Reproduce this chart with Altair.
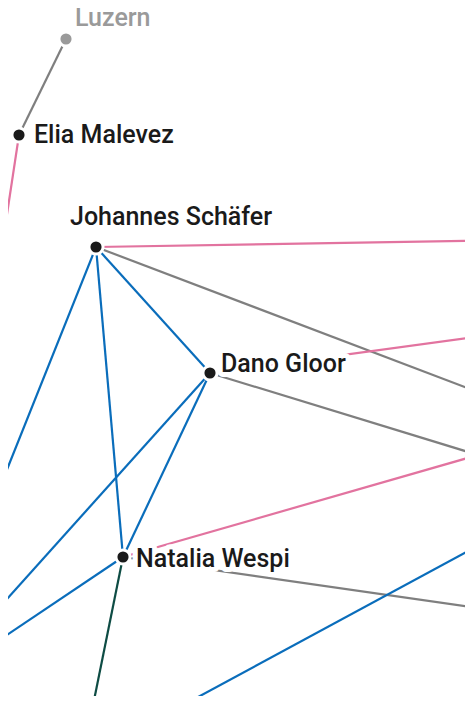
import altair as alt
import pandas as pd

# Node layout (page-pixel coordinates of the network layout)
node_names = ["Luzern", "Elia Malevez", "Johannes Schäfer", "Dano Gloor", "Natalia Wespi",
              "h1", "h2", "h3", "h4", "h5", "h6", "h7", "h8", "h9", "h10", "h11", "h12", "h13", "h14"]
node_x = [66, 19, 96, 210, 123,
          -6, 520, 520, 478, 520, -20, -20, -20, 88, 520, -20, 520, 150, 520]
node_y = [39, 135, 247, 373, 557,
          300, 240, 408, 455, 331, 629, 653, 537, 730, 614, 697, 712, 723, 523]
node_kind = ["place", "person", "person", "person", "person",
             "hidden", "hidden", "hidden", "hidden", "hidden", "hidden", "hidden", "hidden",
             "hidden", "hidden", "hidden", "hidden", "hidden", "hidden"]

# Labels (left x, baseline y)
label_text = ["Luzern", "Elia Malevez", "Johannes Schäfer", "Dano Gloor", "Natalia Wespi"]
label_x = [75, 34, 70, 221, 136]
label_y = [26, 143, 225, 372, 567]
label_kind = ["place", "person", "person", "person", "person"]

# Edges
edge_from = ["Luzern", "Elia Malevez", "Johannes Schäfer", "Johannes Schäfer", "Johannes Schäfer",
             "Johannes Schäfer", "Johannes Schäfer", "Dano Gloor", "Dano Gloor", "Dano Gloor",
             "Dano Gloor", "Natalia Wespi", "Natalia Wespi", "Natalia Wespi", "Natalia Wespi",
             "h11", "h13"]
edge_to = ["Elia Malevez", "h1", "h2", "h3", "Dano Gloor",
           "Natalia Wespi", "h8", "Natalia Wespi", "h5", "h4",
           "h6", "h4", "h7", "h9", "h10",
           "h12", "h14"]
edge_type = ["gray", "pink", "pink", "gray", "blue",
             "blue", "blue", "blue", "pink", "gray",
             "blue", "pink", "blue", "green", "gray",
             "gray", "blue"]

type_domain = ["gray", "pink", "blue", "green"]
type_range = ["#7f7f7f", "#e2739f", "#0a6dbb", "#0e4c44"]

pos = {n: (x, y) for n, x, y in zip(node_names, node_x, node_y)}
edges = pd.DataFrame({
    "x": [pos[a][0] for a in edge_from],
    "y": [pos[a][1] for a in edge_from],
    "x2": [pos[b][0] for b in edge_to],
    "y2": [pos[b][1] for b in edge_to],
    "type": edge_type,
})
nodes = pd.DataFrame({"name": node_names, "x": node_x, "y": node_y, "kind": node_kind})
nodes = nodes[nodes["kind"] != "hidden"]
labels = pd.DataFrame({"text": label_text, "x": label_x, "y": label_y, "kind": label_kind})

xs = alt.Scale(domain=[8, 465], nice=False, zero=False)
ys = alt.Scale(domain=[8, 696], nice=False, zero=False, reverse=True)

X = lambda f="x": alt.X(f, type="quantitative", scale=xs, axis=None)
Y = lambda f="y": alt.Y(f, type="quantitative", scale=ys, axis=None)

lines = alt.Chart(edges).mark_rule(strokeWidth=2.2, clip=True).encode(
    x=X(), y=Y(), x2="x2:Q", y2="y2:Q",
    color=alt.Color("type:N", scale=alt.Scale(domain=type_domain, range=type_range), legend=None),
)

dots = alt.Chart(nodes).mark_point(filled=True, size=200, opacity=1, stroke="white",
                                    strokeWidth=3, strokeOpacity=1, clip=True).encode(
    x=X(), y=Y(),
    fill=alt.Fill("kind:N", scale=alt.Scale(domain=["place", "person"], range=["#9a9a9a", "#1a1a1a"]), legend=None),
)

halo = alt.Chart(labels).mark_text(align="left", baseline="alphabetic", font="Roboto", fontSize=25,
                                    fontWeight=500, stroke="white", strokeWidth=10,
                                    strokeJoin="round").encode(
    x=X(), y=Y(), text="text:N",
)

text = alt.Chart(labels).mark_text(align="left", baseline="alphabetic", font="Roboto", fontSize=25,
                                    fontWeight=500).encode(
    x=X(), y=Y(), text="text:N",
    color=alt.Color("kind:N", scale=alt.Scale(domain=["place", "person"], range=["#9a9a9a", "#1a1a1a"]), legend=None),
)

chart = alt.layer(lines, dots, halo, text).resolve_scale(color="independent").properties(
    width=457, height=688, padding=0, autosize=alt.AutoSizeParams(type="none"),
).configure_view(stroke=None)

chart.save("out.html", embed_options={"renderer": "svg", "actions": False})
